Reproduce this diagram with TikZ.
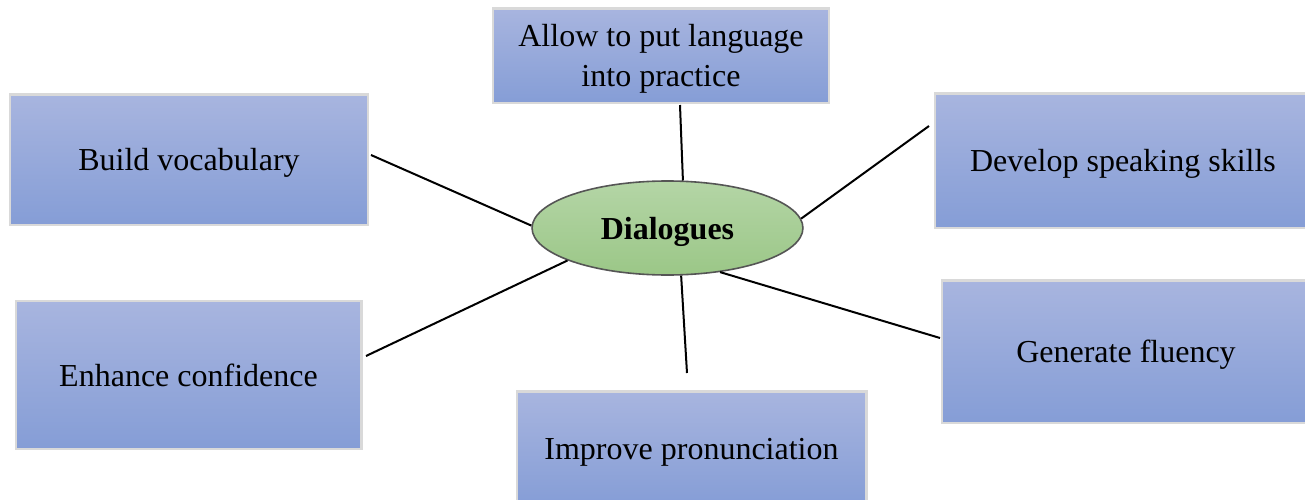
\documentclass[tikz,border=0pt]{standalone}
\usepackage{fontspec}
\setmainfont{Liberation Serif}
\usetikzlibrary{shapes.geometric}
\definecolor{boxtop}{RGB}{168,181,223}
\definecolor{boxbot}{RGB}{133,157,214}
\definecolor{boxline}{RGB}{217,217,217}
\definecolor{dlgtop}{RGB}{180,213,166}
\definecolor{dlgbot}{RGB}{155,199,135}
\definecolor{dlgline}{RGB}{85,85,85}

\begin{document}
\begin{tikzpicture}[x=0.375pt,y=-0.375pt]
				\tikzstyle{b}=[rectangle, top color=boxtop, bottom color=boxbot, draw=boxline, line width=1.1pt, align=center, text depth=0pt, font=\fontsize{12}{14.9}\selectfont]
				\tikzstyle{e}=[ellipse, top color=dlgtop, bottom color=dlgbot, draw=dlgline, line width=0.6pt, inner sep=0pt, text depth=0pt, font=\fontsize{12}{14}\selectfont\bfseries]
				\tikzstyle{l}=[line width=0.75pt, black]

				\useasboundingbox (0,0) rectangle (1305,500);

				\node[e, minimum width=101.6pt, minimum height=35.25pt] (dlg) at (667.5,228) {Dialogues};
				\node[b, minimum width=126pt, minimum height=35.6pt] (practice) at (661,55.5) {Allow to put language\\into practice};
				\node[b, minimum width=134.25pt, minimum height=49.1pt] (vocab) at (189,159.5) {Build vocabulary};
				\node[b, minimum width=141pt, minimum height=50.6pt] (speaking) at (1123,160.5) {Develop speaking skills};
				\node[b, minimum width=129.4pt, minimum height=55.5pt] (confidence) at (188.5,375) {Enhance confidence};
				\node[b, minimum width=130.9pt, minimum height=43.1pt] (pronunciation) at (691.5,448.5) {Improve pronunciation};
				\node[b, minimum width=138pt, minimum height=53.6pt] (fluency) at (1126,351.5) {Generate fluency};

				\coordinate (practiceend) at (680,105);
				\coordinate (vocabend) at (371,155);
				\coordinate (speakingend) at (929,126);
				\coordinate (confidenceend) at (366,356);
				\coordinate (pronunciationend) at (687,373);
				\coordinate (fluencyend) at (940,338);

				\foreach \from/\to in {dlg.72/practiceend,dlg.179/vocabend,dlg.4/speakingend,dlg.198/confidenceend,dlg.286/pronunciationend,dlg.320/fluencyend}
				\draw [l] (\from) -- (\to);
			\end{tikzpicture}
\end{document}
